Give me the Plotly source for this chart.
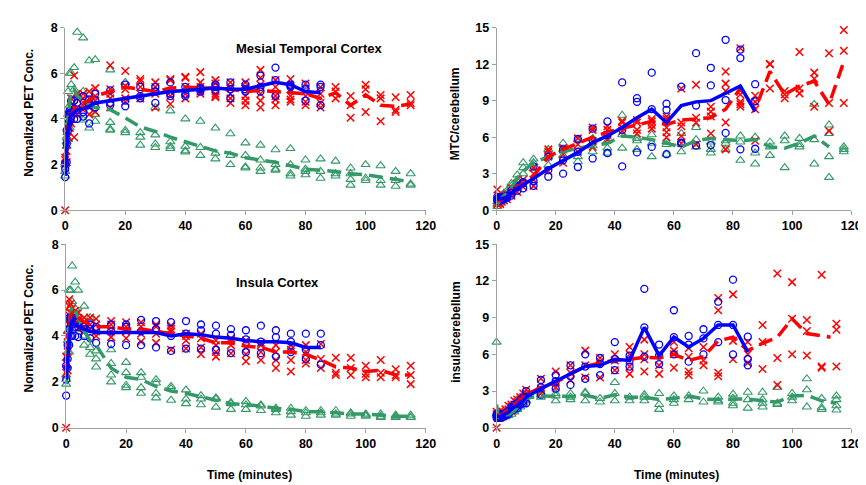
import plotly.graph_objects as go

# ---------------- DATA ----------------
# Panel A: Mesial temporal cortex, normalized PET concentration
mtc_norm_blue_t = [0, 0.5, 1, 1.5, 2, 3, 4, 6, 8, 10, 15, 20, 25, 30, 35, 40, 45, 50, 55, 60, 65, 70, 75, 80, 85]
mtc_norm_blue_v = [[1.45, 1.8, 2.05], [2.1, 2.9, 3.5], [3.5, 3.8, 4.2], [3.9, 4.2, 4.35], [4.1, 4.3, 4.8],
                   [4.0, 4.45, 4.8], [4.0, 4.4, 4.7], [4.1, 4.3, 5.0], [3.8, 4.6, 4.85], [4.5, 4.8, 5.1],
                   [4.6, 4.7, 5.25], [4.55, 4.8, 5.5], [4.9, 5.0, 5.4], [4.7, 5.2, 5.4], [5.0, 5.1, 5.6],
                   [5.0, 5.1, 5.4], [5.2, 5.3, 5.35], [5.25, 5.4, 5.5], [4.9, 5.3, 5.6], [5.2, 5.3, 5.5],
                   [5.2, 5.4, 5.9], [5.0, 5.7, 6.25], [5.4, 5.45, 5.5], [4.8, 5.3, 5.5], [4.6, 5.4, 5.5]]
mtc_norm_blue_mean = [1.5, 2.8, 3.6, 4.0, 4.2, 4.3, 4.4, 4.45, 4.55, 4.7, 4.8, 4.9, 5.0, 5.1, 5.2, 5.25, 5.3,
                      5.35, 5.3, 5.3, 5.45, 5.6, 5.5, 5.2, 5.15]

mtc_norm_red_t = [0, 0.5, 1, 1.5, 2, 3, 4, 6, 8, 10, 15, 20, 25, 30, 35, 40, 45, 50, 55, 60, 65, 70, 75, 80, 85,
                  90, 95, 100, 105, 110, 115]
mtc_norm_red_v = [[0.0, 2.0, 2.2, 2.3], [2.1, 2.6, 3.2], [3.2, 3.8, 4.0, 4.2], [3.6, 4.0, 4.3], [3.8, 4.2, 4.5, 4.9],
                  [3.2, 4.2, 4.6, 5.9], [4.2, 4.5, 4.9, 5.1], [4.4, 4.6, 4.9, 5.1], [4.2, 4.5, 4.9, 5.2],
                  [4.3, 4.8, 5.0, 5.35], [4.5, 4.9, 5.1, 5.3, 6.35], [4.75, 4.9, 5.3, 5.45, 6.1],
                  [4.9, 5.1, 5.4, 5.65, 5.75], [4.5, 5.1, 5.2, 5.4, 5.6], [4.65, 5.0, 5.2, 5.7, 5.75],
                  [4.9, 5.1, 5.4, 5.8, 5.85], [5.1, 5.2, 5.4, 5.6, 6.05], [4.95, 5.0, 5.1, 5.55, 5.7],
                  [4.7, 4.9, 5.1, 5.35, 5.6], [4.6, 4.8, 5.0, 5.4, 5.6], [4.5, 4.8, 5.1, 5.5, 5.8, 6.15],
                  [4.6, 4.85, 5.0, 5.4, 5.7], [4.75, 4.85, 5.0, 5.3, 5.75], [4.6, 4.75, 5.0, 5.2, 5.55],
                  [4.5, 4.7, 5.1, 5.4], [4.9, 5.2, 5.4], [4.05, 4.6, 5.0], [4.3, 5.3, 5.5], [3.9, 4.9, 5.05],
                  [4.3, 4.4, 4.95], [4.6, 4.7, 5.05]]
mtc_norm_red_mean = [2.2, 3.0, 3.9, 4.0, 4.2, 4.4, 4.6, 4.7, 4.8, 5.0, 5.2, 5.4, 5.3, 5.2, 5.35, 5.4, 5.35, 5.35,
                     5.3, 5.2, 5.25, 5.2, 5.15, 5.1, 4.9, 5.15, 4.6, 5.05, 4.6, 4.55, 4.65]

mtc_norm_green_t = mtc_norm_red_t
mtc_norm_green_v = [[1.5, 1.7, 2.0], [2.8, 3.0, 3.2], [3.1, 4.2, 5.2], [3.6, 4.6, 6.0], [4.5, 5.5, 6.0],
                    [4.4, 5.3, 6.25], [4.2, 5.0, 7.8], [3.95, 4.5, 5.2, 7.55], [3.6, 4.6, 6.55], [3.9, 4.2, 6.6],
                    [3.5, 3.55, 3.85, 6.15], [3.4, 3.5, 5.6], [2.85, 3.2, 3.4], [2.75, 2.9, 3.3, 4.5],
                    [2.7, 2.8, 3.0, 4.35], [2.55, 2.6, 2.8, 4.0], [2.4, 2.75, 3.9], [2.25, 2.5, 3.6],
                    [2.0, 2.4, 3.35], [1.85, 1.9, 2.4, 2.95], [1.7, 1.85, 2.2, 2.85], [1.75, 1.8, 2.0, 2.65],
                    [1.5, 1.6, 2.0, 2.7], [1.55, 1.7, 1.8, 2.2], [1.4, 1.7, 2.25], [1.5, 1.6, 2.15],
                    [1.1, 1.35, 1.6, 1.85], [1.3, 1.4, 2.0], [1.1, 1.3, 1.95], [1.05, 1.3, 1.7], [1.1, 1.15, 1.6]]
mtc_norm_green_mean = [1.7, 3.0, 4.2, 4.7, 5.3, 5.3, 5.0, 4.8, 4.6, 4.5, 4.4, 4.05, 3.65, 3.45, 3.2, 3.0, 2.8,
                       2.6, 2.5, 2.3, 2.2, 2.1, 1.95, 1.8, 1.75, 1.7, 1.6, 1.55, 1.45, 1.35, 1.25]

# Panel B: MTC / cerebellum ratio
mtc_ratio_blue_t = [0.25, 0.75, 1.25, 1.75, 2.5, 3.5, 5, 7, 9, 12.5, 17.5, 22.5, 27.5, 32.5, 37.5, 42.5, 47.5,
                    52.5, 57.5, 62.5, 67.5, 72.5, 77.5, 82.5, 87.5]
mtc_ratio_blue_v = [[0.8, 0.9, 1.1], [0.8, 0.95, 1.0], [0.8, 0.9, 1.0], [0.85, 0.95, 1.05], [0.9, 1.0, 1.1],
                    [1.0, 1.1, 1.2], [1.2, 1.4, 1.6], [1.6, 1.9, 2.0], [1.8, 2.2, 2.3], [2.0, 2.4, 3.6],
                    [2.75, 3.3, 4.4], [3.0, 4.1, 5.0], [3.55, 4.8, 5.85], [4.25, 5.7, 6.7], [4.7, 6.2, 7.3],
                    [3.6, 6.6, 10.5], [4.75, 8.9, 9.2], [5.2, 8.3, 11.3], [4.6, 8.25, 8.75], [5.5, 5.55, 10.15],
                    [5.3, 8.6, 12.9], [5.35, 10.25, 11.7], [6.35, 9.05, 14.0], [5.0, 12.5, 13.2],
                    [5.05, 8.95, 10.35]]
mtc_ratio_blue_mean = [0.9, 0.9, 0.9, 0.95, 1.0, 1.1, 1.4, 1.8, 2.1, 2.6, 3.4, 4.1, 4.75, 5.55, 6.1, 6.8, 7.6,
                       8.3, 7.2, 8.6, 8.9, 9.0, 9.6, 10.2, 8.1]

mtc_ratio_red_t = [0.25, 0.75, 1.25, 1.75, 2.5, 3.5, 5, 7, 9, 12.5, 17.5, 22.5, 27.5, 32.5, 37.5, 42.5, 47.5,
                   52.5, 57.5, 62.5, 67.5, 72.5, 77.5, 82.5, 87.5, 92.5, 97.5, 102.5, 107.5, 112.5, 117.5]
mtc_ratio_red_v = [[0.5, 0.8, 1.7], [0.6, 0.9, 1.2], [0.5, 0.8, 1.0], [0.7, 0.9, 1.1], [0.8, 1.0, 1.2],
                   [0.9, 1.1, 1.3], [1.2, 1.5, 1.8], [1.5, 1.9, 2.2], [1.9, 2.2, 2.5], [2.0, 2.5, 3.0, 3.5],
                   [3.2, 4.4, 4.8, 5.0], [3.9, 4.6, 5.0, 5.1], [4.8, 5.4, 5.9], [5.2, 5.7, 6.6, 6.8],
                   [5.8, 6.2, 6.6, 6.9], [6.5, 6.8, 7.2, 7.35], [6.3, 6.6, 7.2, 7.4], [6.7, 7.0, 7.3, 7.5],
                   [6.0, 6.4, 6.8, 7.5, 7.7], [5.5, 6.1, 6.9, 7.2, 10.0], [5.4, 7.2, 7.6, 10.3],
                   [6.3, 7.7, 8.1, 8.5], [5.0, 7.2, 9.8, 10.4, 11.4], [8.5, 8.7, 8.9, 9.5, 13.3],
                   [5.7, 8.3, 8.9, 9.4], [10.0, 12.0, 12.0], [9.2, 9.5, 9.8], [9.6, 10.0, 13.0],
                   [8.5, 10.8, 11.3], [6.5, 8.8, 12.9], [8.8, 13.1, 14.8]]
mtc_ratio_red_mean = [0.8, 0.8, 0.8, 0.9, 1.0, 1.1, 1.5, 1.9, 2.2, 2.8, 4.4, 5.0, 5.5, 6.0, 6.4, 6.75, 7.0, 7.3,
                      7.05, 7.4, 7.5, 7.6, 8.3, 10.0, 8.3, 11.4, 9.5, 10.2, 10.6, 8.7, 12.2]

mtc_ratio_green_t = mtc_ratio_red_t
mtc_ratio_green_v = [[0.3, 0.5, 0.7], [0.5, 0.7, 0.9], [0.7, 0.9, 1.0], [0.8, 1.0, 1.2], [1.0, 1.2, 1.4],
                     [1.2, 1.4, 1.6], [1.5, 2.0, 2.2], [2.0, 2.5, 2.9], [3.0, 3.5, 3.9], [3.4, 3.9, 4.2],
                     [3.7, 4.4, 5.0], [4.5, 5.0, 5.5], [4.0, 4.4, 5.8], [4.8, 5.3, 5.9], [4.7, 5.1, 5.7],
                     [5.1, 6.2, 7.8], [5.0, 5.7, 5.9], [4.4, 5.5, 6.2], [4.6, 5.4, 5.6], [4.8, 5.5, 6.3],
                     [5.2, 5.8, 6.8], [4.7, 5.0, 5.6], [5.0, 5.5, 5.7], [4.1, 5.6, 6.1], [3.8, 4.7, 6.0],
                     [4.5, 5.2, 5.6], [3.5, 5.7, 6.1], [5.2, 5.4, 5.9], [3.8, 5.8, 8.7], [2.7, 4.4, 6.3, 7.0],
                     [4.8, 5.0, 5.2]]
mtc_ratio_green_mean_t = mtc_ratio_red_t[:-1]
mtc_ratio_green_mean = [0.5, 0.7, 0.85, 1.0, 1.2, 1.4, 1.9, 2.5, 3.2, 3.9, 4.4, 4.8, 5.1, 5.3, 5.5, 6.1, 6.0, 5.8,
                        5.5, 5.2, 5.7, 5.9, 5.8, 5.7, 5.8, 5.2, 5.1, 5.5, 6.1, 5.2]

# Panel C: Insula cortex, normalized PET concentration
ins_norm_blue_t = mtc_norm_blue_t
ins_norm_blue_v = [[1.4, 2.1, 2.7], [2.6, 3.0, 3.6], [3.6, 4.3, 4.8], [4.0, 4.6, 4.8], [4.0, 4.5, 4.8],
                   [4.0, 4.4, 4.6], [3.95, 4.4, 4.6], [4.0, 4.3, 4.4], [3.9, 4.3, 4.5], [3.7, 4.3, 4.4],
                   [3.65, 4.2, 4.5], [3.6, 4.4, 4.5], [3.6, 4.2, 4.7], [3.5, 4.3, 4.65], [3.35, 4.0, 4.6],
                   [3.45, 4.1, 4.65], [3.45, 4.25, 4.5], [3.4, 4.1, 4.45], [3.25, 4.05, 4.3], [3.3, 3.85, 4.25],
                   [3.25, 3.75, 4.45], [3.1, 3.95, 4.25], [3.3, 3.75, 4.1], [3.0, 3.4, 4.1], [2.75, 3.6, 4.1]]
ins_norm_blue_mean = [2.1, 3.0, 3.6, 4.5, 4.7, 4.5, 4.4, 4.3, 4.2, 4.15, 4.15, 4.15, 4.15, 4.15, 4.0, 4.1, 4.05,
                      3.95, 3.9, 3.8, 3.75, 3.75, 3.7, 3.5, 3.5]

ins_norm_red_t = mtc_norm_red_t
ins_norm_red_v = [[0.0, 2.4, 2.8, 3.1], [2.5, 3.3, 4.0], [4.5, 4.9, 5.3, 5.6], [4.6, 5.0, 5.4], [4.6, 4.8, 5.0, 5.2],
                  [4.5, 4.9, 5.1], [4.3, 4.7, 5.0], [4.2, 4.4, 4.6, 4.8], [4.3, 4.5, 4.8], [4.0, 4.2, 4.5, 4.75],
                  [3.95, 4.2, 4.5, 4.65], [3.9, 4.2, 4.4, 4.6], [3.75, 4.1, 4.4, 4.6], [3.7, 4.1, 4.4, 4.5],
                  [3.4, 4.2, 4.3, 4.45], [3.45, 3.8, 4.0, 4.1], [3.2, 3.5, 3.9, 4.1], [3.1, 3.3, 3.6, 3.8],
                  [3.25, 3.6, 3.8, 3.9], [2.9, 3.2, 3.5, 3.8], [2.95, 3.3, 3.6, 3.7], [2.6, 2.95, 3.3, 3.6],
                  [2.45, 2.95, 3.4, 3.6], [2.8, 2.95, 3.3, 3.6], [2.6, 3.0, 3.65], [2.3, 2.4, 3.05],
                  [2.3, 2.6, 3.05], [2.2, 2.35, 2.7], [2.2, 2.4, 2.95], [2.2, 2.3, 2.55], [1.9, 2.3, 2.7]]
ins_norm_red_mean = [2.6, 3.5, 4.5, 4.9, 5.0, 4.9, 4.8, 4.6, 4.5, 4.4, 4.4, 4.3, 4.3, 4.2, 4.1, 4.0, 3.9, 3.7,
                     3.7, 3.55, 3.5, 3.3, 3.3, 3.2, 2.95, 2.65, 2.6, 2.45, 2.5, 2.3, 2.3]

ins_norm_green_t = mtc_norm_red_t
ins_norm_green_v = [[1.9, 2.1, 2.3], [3.3, 3.8, 4.2], [3.3, 4.2, 6.0], [4.5, 5.2, 6.0], [4.5, 5.5, 7.05],
                    [4.3, 5.2, 6.35], [4.5, 4.9, 6.0], [3.6, 4.0, 5.3], [3.2, 3.5, 4.8], [2.65, 3.0, 3.35],
                    [2.0, 2.3, 2.8, 3.4], [1.75, 1.85, 2.4, 2.85], [1.5, 1.75, 2.2, 2.4], [1.3, 1.5, 1.95, 2.1],
                    [1.2, 1.7, 1.8], [1.05, 1.25, 1.65], [1.0, 1.25, 1.4], [0.9, 1.25, 1.3], [0.8, 1.05, 1.1],
                    [0.8, 1.0, 1.15], [0.75, 0.95, 1.0], [0.65, 0.8, 0.85], [0.55, 0.7, 0.85], [0.5, 0.65, 0.75],
                    [0.55, 0.65, 0.75], [0.55, 0.6, 0.75], [0.5, 0.6, 0.65], [0.5, 0.55, 0.6], [0.45, 0.5, 0.6],
                    [0.45, 0.5, 0.55], [0.45, 0.45, 0.55]]
ins_norm_green_mean = [1.9, 3.5, 4.2, 5.0, 5.3, 5.1, 4.8, 4.2, 3.8, 3.6, 2.6, 2.2, 2.1, 1.8, 1.6, 1.5, 1.35,
                       1.2, 1.05, 1.0, 0.95, 0.85, 0.8, 0.7, 0.7, 0.65, 0.6, 0.6, 0.55, 0.5, 0.5]

# Panel D: Insula / cerebellum ratio
ins_ratio_blue_t = [0, 0.5, 1, 1.5, 2, 3, 4, 5, 6, 7, 8, 9, 10, 15, 20, 25, 30, 35, 40, 45, 50, 55, 60, 65, 70,
                    75, 80, 85]
ins_ratio_blue_v = [[0.8, 1.0, 1.1], [0.8, 0.9, 1.0], [0.8, 0.9, 1.0], [0.85, 0.95, 1.1], [0.9, 1.0, 1.1],
                    [1.0, 1.1, 1.2], [1.1, 1.3, 1.4], [1.4, 1.6, 1.7], [1.5, 1.7, 1.9], [1.6, 1.8, 2.0],
                    [1.9, 2.1, 2.3], [2.0, 2.2, 2.5], [2.0, 2.5, 3.0], [2.7, 3.3, 3.9], [3.2, 3.8, 4.3],
                    [3.5, 4.2, 5.1], [4.0, 5.0, 6.0], [4.3, 5.2, 5.7], [4.7, 5.6, 7.0], [5.0, 5.5, 5.9],
                    [5.8, 8.2, 11.35], [5.2, 5.9, 6.8], [6.0, 7.4, 9.6], [5.4, 6.8, 7.5], [6.0, 7.3, 8.05],
                    [7.0, 8.4, 10.3], [6.0, 8.4, 12.1], [5.1, 5.6, 7.45]]
ins_ratio_blue_mean = [0.95, 0.9, 0.9, 0.95, 1.0, 1.1, 1.25, 1.5, 1.7, 1.8, 2.1, 2.2, 2.5, 3.2, 3.8, 4.4, 5.0,
                       5.1, 5.6, 5.5, 8.2, 5.9, 7.4, 6.6, 7.3, 8.4, 8.4, 6.2]

ins_ratio_red_t = [0, 0.5, 1, 1.5, 2, 3, 4, 5, 6, 7, 8, 9, 10, 15, 20, 25, 30, 35, 40, 45, 50, 55, 60, 65, 70,
                   75, 80, 85, 90, 95, 100, 105, 110, 115]
ins_ratio_red_v = [[0.0, 1.1, 1.3], [0.8, 1.0, 1.2], [0.8, 1.0, 1.1], [0.9, 1.0, 1.2], [1.0, 1.1, 1.3],
                   [1.1, 1.3, 1.5], [1.3, 1.5, 1.8], [1.4, 1.7, 1.9], [1.6, 1.9, 2.2], [1.8, 2.1, 2.3],
                   [2.0, 2.3, 2.5], [2.2, 2.5, 2.8], [2.4, 2.8, 3.1], [2.8, 3.2, 4.0], [3.3, 3.7, 4.6],
                   [3.9, 4.5, 5.1], [4.1, 5.1, 6.3], [4.1, 5.4, 5.7], [4.7, 5.5, 6.0], [4.4, 5.0, 6.0, 6.6],
                   [4.6, 5.6, 6.0, 7.2], [4.4, 5.1, 6.0], [4.9, 6.0, 6.3, 7.0], [4.3, 4.6, 5.8, 6.5],
                   [5.1, 5.5, 6.6], [4.2, 4.5, 9.6, 10.6], [5.6, 7.1, 10.9], [5.3, 6.0, 7.0], [4.8, 7.0, 8.4],
                   [3.5, 5.7, 12.6], [6.0, 8.9, 11.9], [5.9, 7.9, 8.8], [4.9, 5.0, 12.5], [5.0, 8.0, 8.5]]
ins_ratio_red_mean_t = [0, 0.5, 1, 1.5, 2, 3, 4, 5, 6, 7, 8, 9, 10, 15, 20, 25, 30, 35, 40, 45, 50, 55, 60, 65,
                        70, 75, 80, 85, 90, 95, 100, 105, 113]
ins_ratio_red_mean = [1.1, 1.0, 1.0, 1.05, 1.1, 1.3, 1.5, 1.65, 1.9, 2.05, 2.3, 2.5, 2.7, 3.3, 3.7, 4.4, 5.0,
                      5.3, 5.5, 5.6, 5.75, 5.7, 6.0, 5.5, 5.8, 7.1, 7.4, 6.3, 6.9, 7.4, 8.9, 7.7, 7.4]

ins_ratio_green_t = ins_ratio_red_t
ins_ratio_green_v = [[1.1, 7.0], [0.8, 1.0], [0.7, 0.9], [0.8, 0.9], [0.8, 1.0], [0.9, 1.1], [1.0, 1.2],
                     [1.1, 1.3], [1.3, 1.5], [1.5, 1.8], [1.7, 2.0], [2.0, 2.3], [2.2, 2.6], [2.5, 2.7, 2.9],
                     [2.2, 2.6, 2.8], [2.3, 2.5, 2.8], [2.2, 2.8, 2.9], [2.1, 2.4], [2.2, 2.8, 3.7], [2.2, 2.5],
                     [2.2, 2.5, 2.7], [1.5, 1.9, 2.8], [2.0, 2.3, 2.6], [2.3, 2.6], [2.1, 3.0], [2.1, 2.2, 2.5],
                     [1.8, 2.0, 2.4, 2.75], [1.6, 2.3, 2.9], [1.7, 2.0, 2.3, 2.9], [1.9, 2.0, 3.3],
                     [2.2, 2.5, 2.8], [1.7, 3.1, 4.0], [1.5, 1.65, 2.4], [1.45, 1.8, 2.3, 2.6]]
ins_ratio_green_mean = [1.9, 0.9, 0.8, 0.85, 0.9, 1.0, 1.1, 1.2, 1.4, 1.65, 1.85, 2.15, 2.4, 2.6, 2.6, 2.55,
                        2.65, 2.4, 2.7, 2.5, 2.5, 2.3, 2.4, 2.6, 2.35, 2.3, 2.35, 2.35, 2.2, 2.1, 2.6, 2.65,
                        2.2, 2.0]

x_ticks = [0, 20, 40, 60, 80, 100, 120]
norm_ticks = [0, 2, 4, 6, 8]
ratio_ticks = [0, 3, 6, 9, 12, 15]
panel_titles = ["Mesial Temporal Cortex", "Insula Cortex"]
y_titles = ["Normalized PET Conc.", "MTC/cerebellum", "Normalized PET Conc.", "insula/cerebellum"]
x_title = "Time (minutes)"

# ---------------- STYLE ----------------
BLUE = "#0000FF"
RED = "#FF0000"
GREEN = "#339966"
FONT = "Liberation Sans, Arial, sans-serif"
W, H = 866, 485

fig = go.Figure()


def flat(ts, vs):
    xs, ys = [], []
    for t, v in zip(ts, vs):
        for y in v:
            xs.append(t)
            ys.append(y)
    return xs, ys


def add_panel(ax, blue, red, green):
    xa = "x" + ("" if ax == 1 else str(ax))
    ya = "y" + ("" if ax == 1 else str(ax))
    # markers
    for (ts, vs), sym, col, size, lw in [
        (green[0:2], "triangle-up-open", GREEN, 8, 1.1),
        (red[0:2], "x-thin-open", RED, 7.5, 1.5),
        (blue[0:2], "circle-open", BLUE, 7, 1.3),
    ]:
        xs, ys = flat(ts, vs)
        fig.add_trace(go.Scatter(x=xs, y=ys, mode="markers", xaxis=xa, yaxis=ya, cliponaxis=False,
                                 marker=dict(symbol=sym, size=size, color=col, line=dict(color=col, width=lw)),
                                 showlegend=False, hoverinfo="skip"))
    # mean lines
    for (mt, mv), col, dash in [(green[2:4], GREEN, "14px,7px"), (red[2:4], RED, "14px,7px"),
                                (blue[2:4], BLUE, "solid")]:
        fig.add_trace(go.Scatter(x=mt, y=mv, mode="lines", xaxis=xa, yaxis=ya, cliponaxis=False,
                                 line=dict(color=col, width=3.5, dash=dash),
                                 showlegend=False, hoverinfo="skip"))


add_panel(1, (mtc_norm_blue_t, mtc_norm_blue_v, mtc_norm_blue_t, mtc_norm_blue_mean),
          (mtc_norm_red_t, mtc_norm_red_v, mtc_norm_red_t, mtc_norm_red_mean),
          (mtc_norm_green_t, mtc_norm_green_v, mtc_norm_green_t, mtc_norm_green_mean))
add_panel(2, (mtc_ratio_blue_t, mtc_ratio_blue_v, mtc_ratio_blue_t, mtc_ratio_blue_mean),
          (mtc_ratio_red_t, mtc_ratio_red_v, mtc_ratio_red_t, mtc_ratio_red_mean),
          (mtc_ratio_green_t, mtc_ratio_green_v, mtc_ratio_green_mean_t, mtc_ratio_green_mean))
add_panel(3, (ins_norm_blue_t, ins_norm_blue_v, ins_norm_blue_t, ins_norm_blue_mean),
          (ins_norm_red_t, ins_norm_red_v, ins_norm_red_t, ins_norm_red_mean),
          (ins_norm_green_t, ins_norm_green_v, ins_norm_green_t, ins_norm_green_mean))
add_panel(4, (ins_ratio_blue_t, ins_ratio_blue_v, ins_ratio_blue_t, ins_ratio_blue_mean),
          (ins_ratio_red_t, ins_ratio_red_v, ins_ratio_red_mean_t, ins_ratio_red_mean),
          (ins_ratio_green_t, ins_ratio_green_v, ins_ratio_green_t, ins_ratio_green_mean))

# pixel geometry of panels
panels = {
    1: dict(x0=55, x1=421, y0=13, y1=201, yr=[0, 8], yt=norm_ticks),
    2: dict(x0=493, x1=853, y0=13, y1=201, yr=[0, 15], yt=ratio_ticks),
    3: dict(x0=56, x1=421, y0=236, y1=425, yr=[0, 8], yt=norm_ticks),
    4: dict(x0=493, x1=853, y0=236, y1=425, yr=[0, 15], yt=ratio_ticks),
}
tickfont = dict(family=FONT, size=12.5, color="black", weight="bold")
layout_axes = {}
for k, p in panels.items():
    s = "" if k == 1 else str(k)
    layout_axes["xaxis" + s] = dict(domain=[p["x0"] / W, p["x1"] / W], range=[0, 120], tickvals=x_ticks,
                                    anchor="y" + s, showgrid=False, zeroline=False, showline=True,
                                    linecolor="#a0a0a0", linewidth=1, ticks="outside", ticklen=4,
                                    tickcolor="#a0a0a0", tickfont=tickfont, fixedrange=True)
    layout_axes["yaxis" + s] = dict(domain=[1 - p["y1"] / H, 1 - p["y0"] / H], range=p["yr"], tickvals=p["yt"],
                                    anchor="x" + s, showgrid=False, zeroline=False, showline=True,
                                    linecolor="#a0a0a0", linewidth=1, ticks="outside", ticklen=4,
                                    tickcolor="#a0a0a0", tickfont=tickfont, fixedrange=True)

annots = []
title_font = dict(family=FONT, size=12, color="black", weight="bold")
for txt, (px, py) in zip(y_titles, [(18, 101), (451, 102), (18, 323), (451, 327)]):
    annots.append(dict(text=txt, x=px / W, y=1 - py / H, xref="paper", yref="paper", showarrow=False,
                       textangle=-90, font=title_font, xanchor="center", yanchor="middle"))
for px in [242, 676]:
    annots.append(dict(text=x_title, x=px / W, y=1 - 474 / H, xref="paper", yref="paper", showarrow=False,
                       font=title_font, xanchor="center", yanchor="middle"))
panel_font = dict(family=FONT, size=13, color="black", weight="bold")
annots.append(dict(text=panel_titles[0], x=303 / W, y=1 - 34 / H, xref="paper", yref="paper", showarrow=False,
                   font=panel_font, xanchor="center", yanchor="middle"))
annots.append(dict(text=panel_titles[1], x=271 / W, y=1 - 275 / H, xref="paper", yref="paper", showarrow=False,
                   font=panel_font, xanchor="center", yanchor="middle"))

fig.update_layout(width=W, height=H, margin=dict(l=0, r=0, t=0, b=0), plot_bgcolor="white",
                  paper_bgcolor="white", showlegend=False, annotations=annots, **layout_axes)

fig.write_html("out.html")
